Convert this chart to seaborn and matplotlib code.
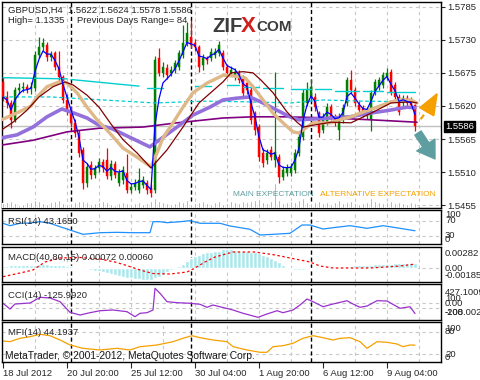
import numpy as np
import pandas as pd
import matplotlib
matplotlib.use("Agg")
import matplotlib.pyplot as plt
import matplotlib.transforms as mtransforms
from matplotlib.ticker import FormatStrFormatter
import seaborn as sns

sns.set_style("white")
plt.rcParams['font.family'] = ['Liberation Sans', 'DejaVu Sans']
FS = 6.8

# GBPUSD H4 candles, bar 0 = 18 Jul 2012
opens = [1.5660, 1.5635, 1.5625, 1.5597, 1.5647, 1.5650, 1.5652, 1.5648, 1.5650, 1.5705,
         1.5718, 1.5721, 1.5701, 1.5708, 1.5685, 1.5668, 1.5630, 1.5613, 1.5592, 1.5575,
         1.5547, 1.5492, 1.5522, 1.5505, 1.5517, 1.5527, 1.5530, 1.5504, 1.5524, 1.5492,
         1.5497, 1.5509, 1.5480, 1.5485, 1.5480, 1.5489, 1.5492, 1.5484, 1.5480, 1.5700,
         1.5675, 1.5683, 1.5675, 1.5680, 1.5685, 1.5705, 1.5725, 1.5735, 1.5725, 1.5718,
         1.5688, 1.5700, 1.5700, 1.5705, 1.5708, 1.5708, 1.5685, 1.5675, 1.5668,
         1.5675, 1.5668, 1.5658, 1.5647, 1.5608, 1.5585, 1.5542, 1.5530, 1.5547, 1.5530,
         1.5535, 1.5502, 1.5509, 1.5509, 1.5514, 1.5542, 1.5569, 1.5625, 1.5635, 1.5635,
         1.5608, 1.5580, 1.5592, 1.5618, 1.5602, 1.5580, 1.5597, 1.5625, 1.5663, 1.5647,
         1.5622, 1.5617, 1.5603, 1.5597, 1.5643, 1.5652, 1.5655, 1.5668, 1.5677, 1.5655,
         1.5635, 1.5625, 1.5633, 1.5630, 1.5622]
closes = [1.5635, 1.5625, 1.5597, 1.5647, 1.5650, 1.5652, 1.5648, 1.5652, 1.5705, 1.5718,
          1.5725, 1.5701, 1.5706, 1.5685, 1.5668, 1.5630, 1.5613, 1.5592, 1.5575, 1.5542,
          1.5492, 1.5519, 1.5505, 1.5517, 1.5527, 1.5517, 1.5504, 1.5524, 1.5505, 1.5509,
          1.5514, 1.5480, 1.5485, 1.5492, 1.5497, 1.5497, 1.5480, 1.5475, 1.5696, 1.5675,
          1.5685, 1.5672, 1.5680, 1.5691, 1.5708, 1.5725, 1.5741, 1.5721, 1.5718, 1.5685,
          1.5700, 1.5696, 1.5710, 1.5710, 1.5721, 1.5685, 1.5675, 1.5680, 1.5677,
          1.5663, 1.5642, 1.5647, 1.5597, 1.5580, 1.5535, 1.5525, 1.5542, 1.5535, 1.5544,
          1.5502, 1.5514, 1.5517, 1.5519, 1.5542, 1.5569, 1.5642, 1.5647, 1.5652, 1.5618,
          1.5575, 1.5602, 1.5618, 1.5602, 1.5592, 1.5602, 1.5617, 1.5663, 1.5647, 1.5625,
          1.5613, 1.5608, 1.5613, 1.5642, 1.5660, 1.5663, 1.5672, 1.5675, 1.5643, 1.5635,
          1.5610, 1.5633, 1.5625, 1.5622, 1.5586]
highs = [1.5668, 1.5645, 1.5630, 1.5652, 1.5658, 1.5660, 1.5656, 1.5660, 1.5712, 1.5735,
         1.5733, 1.5726, 1.5712, 1.5712, 1.5712, 1.5672, 1.5640, 1.5620, 1.5598, 1.5580,
         1.5552, 1.5525, 1.5528, 1.5522, 1.5533, 1.5532, 1.5550, 1.5530, 1.5528, 1.5515,
         1.5520, 1.5540, 1.5492, 1.5498, 1.5517, 1.5503, 1.5497, 1.5490, 1.5703, 1.5717,
         1.5693, 1.5690, 1.5686, 1.5697, 1.5713, 1.5754, 1.5759, 1.5763, 1.5732, 1.5722,
         1.5706, 1.5703, 1.5716, 1.5716, 1.5728, 1.5713, 1.5690, 1.5686, 1.5683,
         1.5680, 1.5672, 1.5663, 1.5652, 1.5612, 1.5590, 1.5550, 1.5548, 1.5553, 1.5677,
         1.5540, 1.5520, 1.5523, 1.5525, 1.5548, 1.5575, 1.5648, 1.5660, 1.5665, 1.5642,
         1.5612, 1.5608, 1.5625, 1.5623, 1.5607, 1.5608, 1.5623, 1.5668, 1.5680, 1.5652,
         1.5628, 1.5622, 1.5618, 1.5647, 1.5665, 1.5668, 1.5677, 1.5683, 1.5681, 1.5660,
         1.5640, 1.5638, 1.5638, 1.5635, 1.5624]
lows = [1.5628, 1.5617, 1.5584, 1.5593, 1.5640, 1.5643, 1.5641, 1.5640, 1.5645, 1.5700,
        1.5712, 1.5695, 1.5695, 1.5680, 1.5662, 1.5625, 1.5605, 1.5585, 1.5568, 1.5535,
        1.5482, 1.5485, 1.5498, 1.5500, 1.5510, 1.5510, 1.5498, 1.5497, 1.5500, 1.5487,
        1.5490, 1.5475, 1.5475, 1.5480, 1.5476, 1.5484, 1.5474, 1.5468, 1.5475, 1.5670,
        1.5668, 1.5665, 1.5670, 1.5674, 1.5680, 1.5700, 1.5720, 1.5716, 1.5712, 1.5676,
        1.5680, 1.5690, 1.5694, 1.5699, 1.5703, 1.5680, 1.5670, 1.5670, 1.5663,
        1.5658, 1.5637, 1.5640, 1.5590, 1.5572, 1.5528, 1.5518, 1.5524, 1.5530, 1.5519,
        1.5492, 1.5497, 1.5503, 1.5504, 1.5509, 1.5537, 1.5564, 1.5620, 1.5630, 1.5612,
        1.5568, 1.5575, 1.5588, 1.5597, 1.5586, 1.5564, 1.5592, 1.5620, 1.5642, 1.5620,
        1.5607, 1.5602, 1.5598, 1.5578, 1.5638, 1.5647, 1.5650, 1.5663, 1.5638, 1.5630,
        1.5605, 1.5620, 1.5620, 1.5617, 1.5578]
tick_volume = [5, 6, 7, 5, 3, 4, 6, 6, 8, 7, 5, 4, 6, 7, 8, 5, 4, 5, 6, 7,
               7, 6, 4, 5, 6, 7, 6, 4, 3, 5, 6, 5, 4, 5, 6, 4, 5, 7, 10, 7,
               6, 5, 4, 5, 7, 6, 8, 4, 5, 6, 7, 5, 4, 6, 7, 4, 5, 7, 6,
               5, 7, 6, 7, 8, 9, 6, 5, 7, 25, 8, 5, 6, 7, 6, 8, 10, 6, 5, 6,
               7, 5, 6, 4, 6, 8, 5, 6, 7, 5, 4, 5, 6, 10, 7, 6, 5, 6, 7, 5, 6, 5, 4, 6, 5]

tick_bars = [0, 16, 32, 48, 64, 80, 96]
tick_labels = ["18 Jul 2012", "20 Jul 20:00", "25 Jul 12:00", "30 Jul 04:00",
               "1 Aug 20:00", "6 Aug 12:00", "9 Aug 04:00"]
week_starts = [17, 47, 77]
price_ticks = [1.5455, 1.5510, 1.5565, 1.5620, 1.5675, 1.5730, 1.5785]

# moving averages (bar, price)
tan_bar = [-0.4, 4, 7, 8.5, 11, 14, 16, 18.5, 21, 23.5, 26, 30, 33.5, 37, 38.5, 40, 42.5, 45, 47.5, 51,
           55, 57.5, 60.5, 62.5, 65, 67.5, 70, 72.5, 74, 76, 77.5, 82, 84, 87, 90, 93.5, 97, 99, 102, 103.5]
tan_price = [1.5597, 1.5610, 1.5620, 1.5635, 1.5652, 1.5660, 1.5658, 1.5642, 1.5618, 1.5597,
             1.5580, 1.5550, 1.5535, 1.5519, 1.5542, 1.5567, 1.5592, 1.5618, 1.5642, 1.5658,
             1.5671, 1.5670, 1.5667, 1.5652, 1.5630, 1.5608, 1.5592, 1.5577, 1.5575, 1.5585,
             1.5592, 1.5592, 1.5597, 1.5602, 1.5610, 1.5618, 1.5627, 1.5630, 1.5630, 1.5625]
maroon_bar = [-0.4, 2.5, 6, 9, 12.5, 15.5, 17.5, 21, 24, 27, 30, 33.5, 37, 41, 45, 49,
              55, 57, 60, 62.5, 64.5, 67.5, 71, 73.5, 75, 77.5, 82, 87, 92, 97, 102, 103.5]
maroon_price = [1.5580, 1.5593, 1.5613, 1.5635, 1.5652, 1.5660, 1.5655, 1.5638, 1.5618, 1.5590,
                1.5564, 1.5542, 1.5517, 1.5547, 1.5585, 1.5625, 1.5660, 1.5675, 1.5677, 1.5675,
                1.5663, 1.5642, 1.5610, 1.5593, 1.5585, 1.5588, 1.5593, 1.5592, 1.5608, 1.5625,
                1.5627, 1.5625]
purple_bar = [-0.4, 3.5, 7.5, 11, 14.7, 17, 21, 24, 27, 31.7, 36.7, 39, 43.5, 47.5, 51.7,
              55, 58.5, 61.7, 65, 68.5, 71.7, 74, 76.7, 82, 86.7, 91.7, 96.7, 101, 103]
purple_price = [1.5567, 1.5572, 1.5585, 1.5602, 1.5615, 1.5610, 1.5600, 1.5588, 1.5583, 1.5568,
                1.5552, 1.5563, 1.5585, 1.5605, 1.5618, 1.5630, 1.5633, 1.5635, 1.5625, 1.5613,
                1.5602, 1.5597, 1.5598, 1.5600, 1.5602, 1.5608, 1.5613, 1.5618, 1.5617]
dpurple_bar = [-0.4, 7.5, 16, 24, 35, 43.5, 55, 62.5, 71, 82, 92, 103.5]
dpurple_price = [1.5555, 1.5563, 1.5577, 1.5583, 1.5585, 1.5592, 1.5600, 1.5602, 1.5602,
                 1.5600, 1.5597, 1.5593]
cyan_seg_start = [0, 17, 36, 48, 56, 60, 65, 72, 78, 83, 90, 96]
cyan_seg_end = [16, 34, 40, 52, 59, 64, 70, 77, 82, 89, 95, 103]
cyan_seg_from = [1.5667, 1.5664, 1.5650, 1.5653, 1.5655, 1.5652, 1.5650, 1.5648, 1.5648, 1.5645, 1.5645, 1.5644]
cyan_seg_to = [1.5665, 1.5653, 1.5650, 1.5653, 1.5655, 1.5652, 1.5650, 1.5648, 1.5648, 1.5645, 1.5645, 1.5644]
cyanb_bar = [0, 12, 25, 38, 50, 60, 72, 80, 90, 103]
cyanb_price = [1.5635, 1.5635, 1.5630, 1.5625, 1.5628, 1.5627, 1.5625, 1.5630, 1.5628, 1.5627]

# indicator windows
rsi_bar = [0, 1.75, 4.25, 6.75, 9.25, 11.75, 14.25, 16.75, 20, 24.25, 28.5, 32.5, 36.75, 37.5, 39.25,
           41, 44.25, 46.75, 49.25, 54.25, 56.75, 61.75, 64.25, 67.5, 71.75, 74.75, 76.75, 80,
           82.5, 86.75, 91, 95, 99.25, 103]
rsi_val = [63.1, 56.7, 63.1, 63.9, 67.3, 63.1, 54.0, 45.2, 33.7, 38.0, 39.0, 38.0, 38.0, 67.3, 67.3,
           64.7, 67.3, 70.0, 63.1, 63.1, 55.9, 47.1, 31.9, 33.7, 36.4, 58.5, 58.5, 47.9,
           51.3, 56.7, 49.7, 56.7, 49.7, 43.2]
macd_hist = [34, 34, 43, 43, 51, 51, 51, 51, 51, 60, 60, 60, 51, 51, 51, 43, 34, 26, 17, 9,
             0, -13, -26, -40, -53, -66, -79, -92, -106, -119, -132, -145, -158, -165, -172, -178, -185, -185, -158, -132,
             -99, -66, -33, 0, 34, 68, 111, 153, 179, 204, 221, 238, 247, 255, 264, 282, 282, 282, 272,
             264, 255, 255, 247, 238, 221, 204, 179, 153, 119, 85, 51, 17, -13, -26, -33, -26, -20, -13, -7,
             0, 9, 9, 17, 17, 17, 30, 34, 38, 40, 44, 46, 50, 52, 55, 58, 60, 64, 68, 70, 72, 72, 72, 72, 72]
signal_bar = [0, 4.25, 7.5, 10.5, 14.25, 19.25, 24.25, 28, 30.5, 34.25, 37.5, 41.75, 46, 48, 50.5,
              53, 57.5, 63, 68, 74.25, 76.75, 79.25, 82.5, 91.75, 99.25, 103]
signal_val = [-132, -76, -30, 91, 152, 160, 137, 91, 46, -30, -84, -91, -61, 0, 91,
              167, 243, 243, 198, 122, 91, 30, 0, 0, 30, 60]
cci_bar = [0, 1.75, 3, 6.75, 9.25, 11.75, 14.25, 16.75, 19.25, 21.75, 24.25, 27.5, 31, 33, 34.25,
           36, 37.5, 38, 39.25, 41, 43.5, 46.75, 49.25, 51, 52.5, 57.5, 60, 63.75, 66, 68.5,
           70, 72.5, 74.25, 76, 77.5, 80, 82.5, 86, 87.5, 89.25, 91, 93.5, 96, 99.25, 101.75, 103]
cci_val = [99, -26, 83, 105, 230, 215, 134, -99, -158, -107, -64, -48, -85, -195, -120,
           -107, -48, 427.1, 318, 134, 112, 99, 77, 11, 61, -48, -120, -208, -136, -64,
           -107, -48, 61, 193, 134, 24, 83, 155, 83, 11, 39, 155, 149, -11, 24, -126]
mfi_bar = [0, 1.75, 4.25, 6.75, 9.25, 11.75, 14.25, 16.75, 20, 24.25, 28.5, 31.75, 34.25, 38.5, 42.5,
           45, 47.25, 49.25, 52.5, 56, 57.5, 61, 64.25, 66, 67.5, 70, 72.5, 75, 77.5, 80,
           82.5, 84.25, 86.75, 89.25, 91, 93.5, 96, 98.5, 100, 101.75, 103]
mfi_val = [55.3, 53.5, 62.5, 66.7, 73.1, 69.4, 58.0, 44.7, 35.9, 31.4, 35.9, 31.4, 40.2, 44.7, 53.5,
           62.5, 69.4, 64.1, 58.0, 53.5, 40.2, 31.4, 25.3, 25.3, 40.2, 42.8, 49.2, 62.5, 69.4, 64.1,
           58.0, 62.5, 64.1, 53.5, 35.9, 53.5, 51.9, 47.3, 40.2, 44.7, 44.2]

bars = np.arange(len(closes))
df = pd.DataFrame({"open": opens, "close": closes, "high": highs, "low": lows,
                   "volume": tick_volume}, index=bars)
df["fast"] = df["close"].ewm(span=3, adjust=False).mean()

# layout in pixels of the 480x380 picture
W, H = 480, 380


def panel(top, bottom):
    return [1.5 / W, 1 - bottom / H, 439.5 / W, (bottom - top) / H]


def fxy(x, y):
    return x / W, 1 - y / H


fig = plt.figure(figsize=(4.8, 3.8), dpi=100)
ax = fig.add_axes(panel(1.5, 207.5))
ax_vol = ax.twinx()
ax_rsi = fig.add_axes(panel(210, 244.3))
ax_macd = fig.add_axes(panel(247, 282.3))
ax_cci = fig.add_axes(panel(284, 320))
ax_mfi = fig.add_axes(panel(322.3, 361.7))
panels = [ax, ax_rsi, ax_macd, ax_cci, ax_mfi]

GRID = dict(color="#c8c8c8", linestyle=(0, (3, 3)), linewidth=0.8)
for a in panels:
    for s in a.spines.values():
        s.set_color("black")
        s.set_linewidth(1.0)
    a.set_xticks(np.arange(0, 105, 8), minor=True)
    a.grid(which="minor", axis="x", **GRID)
    a.tick_params(which="both", bottom=False, top=False, left=False, right=False,
                  labelbottom=False, labelleft=False, labelright=False)
    for ws in week_starts:
        a.axvline(ws, color="black", lw=1.0, linestyle=(0, (3, 2)), zorder=2)

# volumes
ax_vol.bar(bars, df["volume"], width=0.3, color="#6b9ea0", zorder=1)
ax_vol.set_ylim(0, 206)
ax_vol.axis("off")

# candles
up = df["close"] >= df["open"]
colors = np.where(up, "#008000", "#ff0000")
body_low = df[["open", "close"]].min(axis=1)
body_h = (df["close"] - df["open"]).abs().clip(lower=0.00005)
ax.vlines(bars, df["low"], df["high"], colors=colors, lw=0.9, zorder=3)
ax.bar(bars, body_h, bottom=body_low, width=0.72, color=colors, edgecolor=colors,
       linewidth=0.3, zorder=3)

ax.axhline(closes[-1], color="#c0c0c0", lw=1.0, zorder=2.5)
for s, e, v0, v1 in zip(cyan_seg_start, cyan_seg_end, cyan_seg_from, cyan_seg_to):
    ax.plot([s, e], [v0, v1], color="#00ced1", lw=1.0, zorder=4)
ax.plot(cyanb_bar, cyanb_price, color="#00ced1", lw=0.9, linestyle=(0, (3, 2)), zorder=4)
sns.lineplot(x=dpurple_bar, y=dpurple_price, ax=ax, color="#800080", linewidth=1.2, zorder=4)
sns.lineplot(x=purple_bar, y=purple_price, ax=ax, color="#9370db", linewidth=2.6, zorder=4)
sns.lineplot(x=tan_bar, y=tan_price, ax=ax, color="#deb887", linewidth=2.4, zorder=4)
sns.lineplot(x=maroon_bar, y=maroon_price, ax=ax, color="#800000", linewidth=0.9, zorder=4)
sns.lineplot(x=bars, y=df["fast"].values, ax=ax, color="#0000ff", linewidth=0.9, zorder=5)

ax.set_xlim(-0.375, 109.5)
ax.set_ylim(1.54513, 1.57936)
ax.set_yticks(price_ticks)
ax.yaxis.tick_right()
ax.yaxis.set_major_formatter(FormatStrFormatter("%.4f"))
ax.tick_params(axis="y", which="major", right=True, labelright=True, length=3, width=0.8,
               pad=1.5, labelsize=FS)
ax.grid(which="major", axis="y", **GRID)

tag = mtransforms.offset_copy(ax.get_yaxis_transform(), fig=fig, x=4, y=0, units="dots")
ax.text(1.0, closes[-1], f"{closes[-1]:.4f}", transform=tag, ha="left", va="center",
        color="white", fontsize=FS, clip_on=False, zorder=10,
        bbox=dict(boxstyle="square,pad=0.15", facecolor="black", edgecolor="black"))

# expectation arrows
ORANGE = "#f5a000"
TEAL = "#5f9ea0"
ax.plot([104.4, 105.9], [1.5598, 1.5611], color=ORANGE, lw=1.6, linestyle=(0, (2.5, 2)), zorder=6)
ax.annotate("", xy=(108.75, 1.5643), xytext=(106.0, 1.5611), annotation_clip=False,
            arrowprops=dict(arrowstyle="-|>,head_length=1.4,head_width=0.55", mutation_scale=10,
                            color=ORANGE, lw=1.5, shrinkA=0, shrinkB=0))
ax.annotate("", xy=(108.0, 1.5532), xytext=(103.75, 1.5575), annotation_clip=False,
            arrowprops=dict(arrowstyle="simple,head_length=1.0,head_width=1.3,tail_width=0.45",
                            mutation_scale=12, color=TEAL, shrinkA=0, shrinkB=0))
fig.text(*fxy(233, 195.5), "MAIN EXPECTATION", color=TEAL, fontsize=6.0, va="baseline")
fig.text(*fxy(320, 195.5), "ALTERNATIVE EXPECTATION", color=ORANGE, fontsize=6.0, va="baseline")

# header and logo
fig.text(*fxy(8, 12.5), f"GBPUSD,H4  {opens[-1]:.4f} {highs[-1]:.4f} {lows[-1]:.4f} {closes[-1]:.4f}",
         fontsize=FS, va="baseline")
fig.text(*fxy(8, 23.3), "High= 1.1335", fontsize=FS, va="baseline")
fig.text(*fxy(77, 23.3), "Previous Days Range= 84", fontsize=FS, va="baseline")
fig.text(*fxy(212, 32), "ZIF", fontsize=14.5, fontweight="bold", color="#3c3c3c", va="baseline")
fig.text(*fxy(241, 32), "X", fontsize=16, fontweight="bold", color="#d01f1f", va="baseline")
fig.text(*fxy(256, 31), "COM", fontsize=11, fontweight="bold", color="#3c3c3c", va="baseline")


def right_labels(a, items):
    trans = mtransforms.offset_copy(a.get_yaxis_transform(), fig=fig, x=4, y=0, units="dots")
    for text, yv, va in items:
        a.text(1.0, yv, text, transform=trans, ha="left", va=va, fontsize=FS, clip_on=False)


# RSI
sns.lineplot(x=rsi_bar, y=rsi_val, ax=ax_rsi, color="#1e90ff", linewidth=0.9)
ax_rsi.set_ylim(7.1, 98.5)
for lv in (70, 30):
    ax_rsi.axhline(lv, zorder=1, **GRID)
right_labels(ax_rsi, [("100", 98.5, "top"), ("70", 70, "center"), ("30", 30, "center"), ("0", 7.1, "bottom")])
fig.text(*fxy(8, 223.5), "RSI(14) 43.1650", fontsize=FS, va="baseline")

# MACD
ax_macd.bar(bars, np.array(macd_hist) * 1e-5, width=0.78, color="#a8e8ec", zorder=2)
ax_macd.plot(signal_bar, np.array(signal_val) * 1e-5, color="red", lw=0.9,
             linestyle=(0, (2, 2)), zorder=3)
ax_macd.set_ylim(-0.00217, 0.00319)
ax_macd.axhline(0, zorder=1, **GRID)
right_labels(ax_macd, [("0.00282", 0.00282, "top"), ("0.00", 0, "center"), ("-0.00185", -0.00185, "bottom")])
fig.text(*fxy(8, 260.5), "MACD(40,80,15) 0.00072 0.00060", fontsize=FS, va="baseline")

# CCI
sns.lineplot(x=cci_bar, y=cci_val, ax=ax_cci, color="#9932cc", linewidth=0.9)
ax_cci.set_ylim(-267, 521)
for lv in (100, 0):
    ax_cci.axhline(lv, zorder=1, **GRID)
right_labels(ax_cci, [("427.1009", 427.1, "top"), ("100", 100, "bottom"), ("0.00", 0, "bottom"),
                      ("-100", -100, "center"), ("-208.002", -208, "bottom")])
fig.text(*fxy(8, 297.5), "CCI(14) -125.9920", fontsize=FS, va="baseline")

# MFI
sns.lineplot(x=mfi_bar, y=mfi_val, ax=ax_mfi, color="#f5a000", linewidth=0.9)
ax_mfi.set_ylim(0.3, 105)
for lv in (80, 20):
    ax_mfi.axhline(lv, zorder=1, **GRID)
right_labels(ax_mfi, [("100", 100, "top"), ("80", 80, "center"), ("20", 20, "center"), ("0", 0.3, "bottom")])
fig.text(*fxy(8, 335), "MFI(14) 44.1937", fontsize=FS, va="baseline")
fig.text(*fxy(5, 359), "MetaTrader, \u00a9 2001-2012, MetaQuotes Software Corp.", fontsize=7.4,
         va="baseline", color="#1a1a1a")

ax_mfi.set_xticks(tick_bars)
ax_mfi.set_xticklabels(tick_labels, ha="left")
ax_mfi.tick_params(axis="x", which="major", bottom=True, labelbottom=True, length=4, width=0.8,
                   pad=1.5, labelsize=FS)

for a in panels:
    a.set_xlim(-0.375, 109.5)
    a.set_xlabel("")
    a.set_ylabel("")

fig.savefig("out.png", dpi=100)
